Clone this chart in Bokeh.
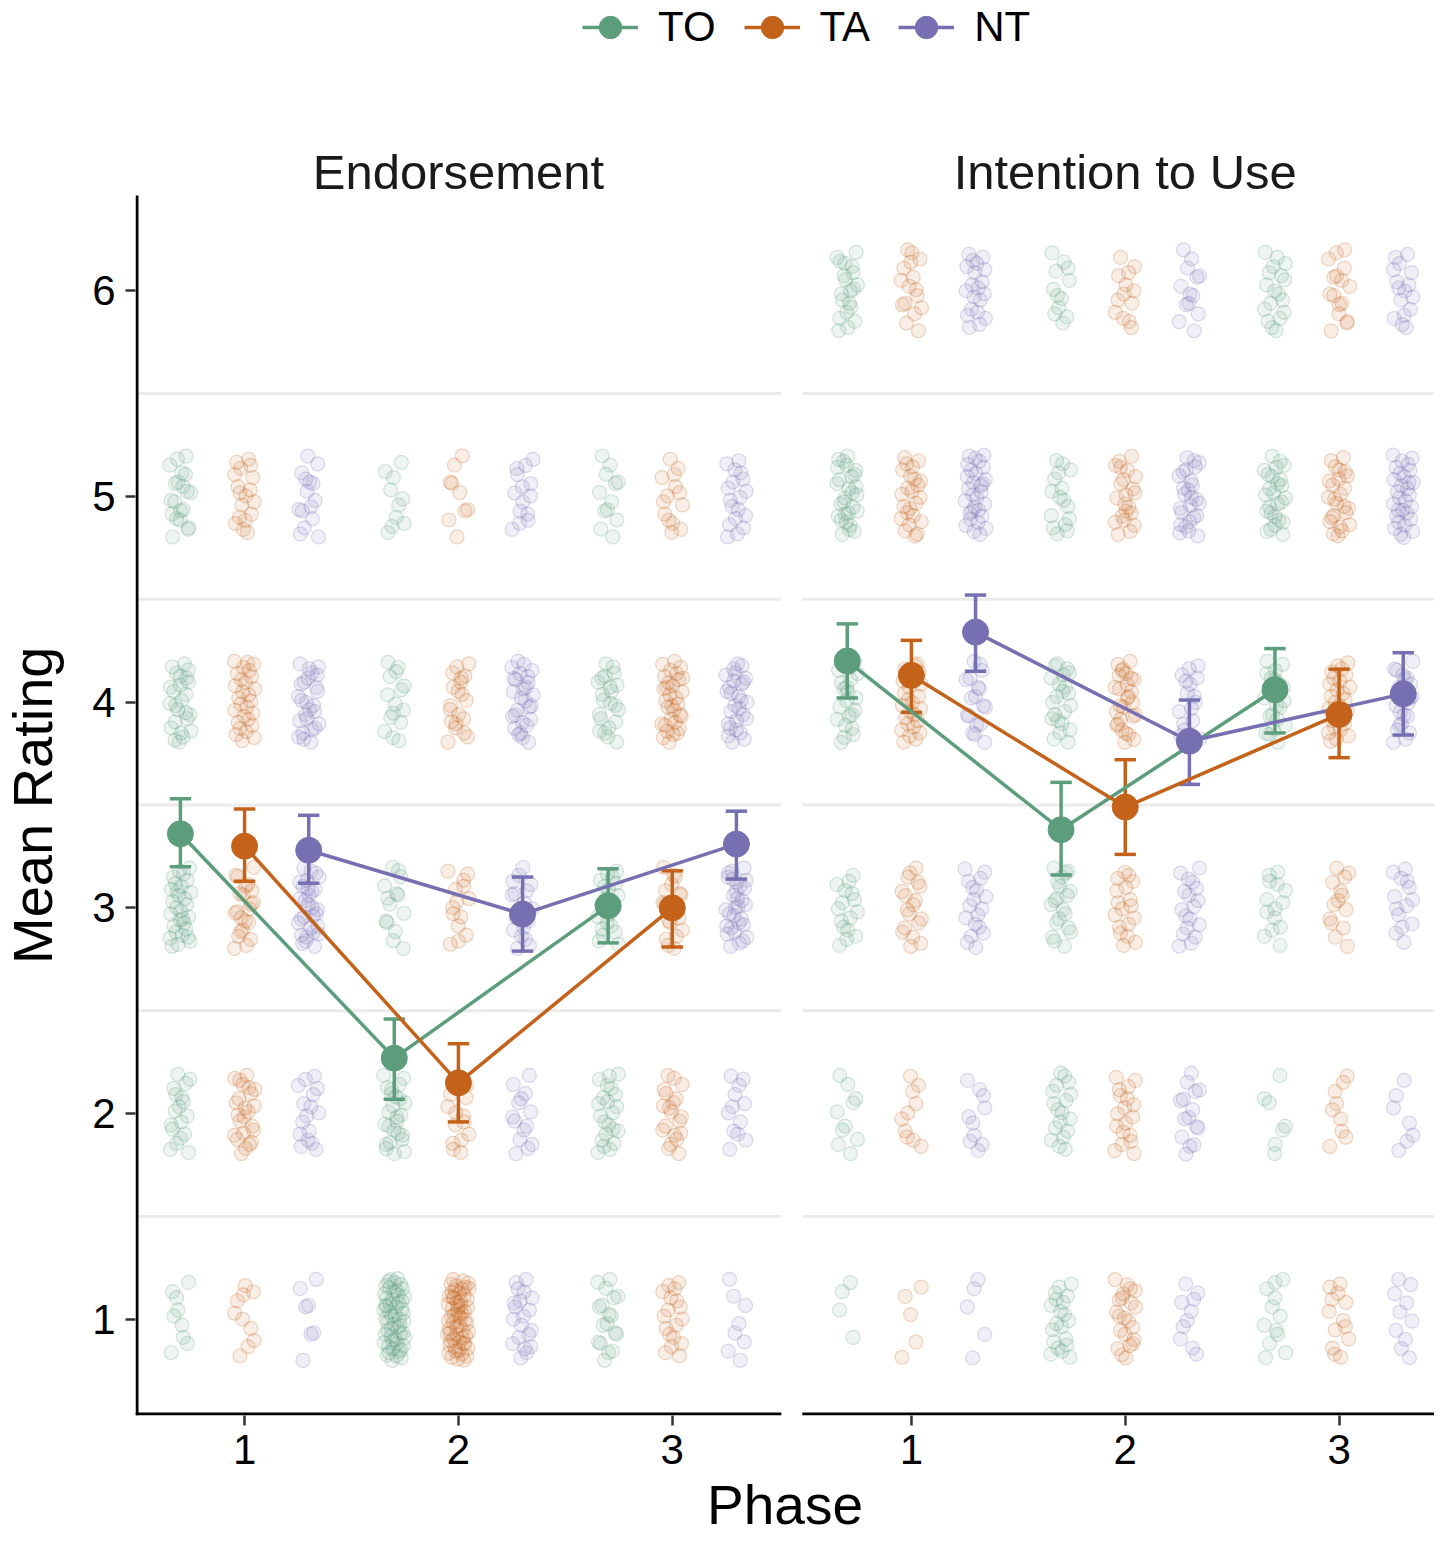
from bokeh.plotting import figure
from bokeh.models import (Range1d, FixedTicker, CustomJSTickFormatter, Legend,
                          LegendItem, Label, Title)
from bokeh.embed import file_html
from bokeh.resources import INLINE

# ---------------- data ----------------
panels = ["Endorsement", "Intention to Use"]
groups = ["TO", "TA", "NT"]
phases = [1, 2, 3]
phase_labels = ["1", "2", "3"]
ratings = [1, 2, 3, 4, 5, 6]
y_ticks = [1, 2, 3, 4, 5, 6]
grid_breaks = [1.5, 2.5, 3.5, 4.5, 5.5]
colors = {"TO": "#5C9E7C", "TA": "#C4621A", "NT": "#7670B2"}

# means and interval bounds per phase (1, 2, 3)
end_TO_mean = [3.36, 2.27, 3.01]
end_TO_lo = [3.20, 2.07, 2.83]
end_TO_hi = [3.53, 2.46, 3.19]
end_TA_mean = [3.30, 2.15, 3.00]
end_TA_lo = [3.13, 1.96, 2.81]
end_TA_hi = [3.48, 2.34, 3.18]
end_NT_mean = [3.28, 2.97, 3.31]
end_NT_lo = [3.12, 2.79, 3.14]
end_NT_hi = [3.45, 3.15, 3.47]

int_TO_mean = [4.20, 3.38, 4.06]
int_TO_lo = [4.02, 3.16, 3.85]
int_TO_hi = [4.38, 3.61, 4.26]
int_TA_mean = [4.13, 3.49, 3.94]
int_TA_lo = [3.95, 3.26, 3.73]
int_TA_hi = [4.30, 3.72, 4.16]
int_NT_mean = [4.34, 3.81, 4.04]
int_NT_lo = [4.15, 3.60, 3.84]
int_NT_hi = [4.52, 4.01, 4.24]

# counts of raw ratings (1..6) per phase (rows = phase 1, 2, 3)
end_TO_counts = [[9, 18, 30, 25, 20, 0], [55, 25, 14, 15, 10, 0], [18, 22, 22, 22, 12, 0]]
end_TA_counts = [[10, 24, 22, 28, 18, 0], [60, 15, 14, 20, 9, 0], [18, 20, 18, 32, 14, 0]]
end_NT_counts = [[7, 16, 30, 26, 15, 0], [20, 14, 18, 28, 14, 0], [8, 12, 30, 28, 18, 0]]
int_TO_counts = [[4, 10, 16, 22, 28, 20], [20, 18, 20, 22, 16, 12], [12, 7, 14, 22, 26, 18]]
int_TA_counts = [[5, 10, 18, 26, 24, 16], [22, 18, 18, 28, 22, 13], [13, 9, 14, 26, 25, 16]]
int_NT_counts = [[5, 10, 18, 18, 30, 20], [10, 15, 18, 16, 26, 13], [10, 7, 14, 22, 30, 16]]

series = {
    (0, "TO"): (end_TO_mean, end_TO_lo, end_TO_hi, end_TO_counts),
    (0, "TA"): (end_TA_mean, end_TA_lo, end_TA_hi, end_TA_counts),
    (0, "NT"): (end_NT_mean, end_NT_lo, end_NT_hi, end_NT_counts),
    (1, "TO"): (int_TO_mean, int_TO_lo, int_TO_hi, int_TO_counts),
    (1, "TA"): (int_TA_mean, int_TA_lo, int_TA_hi, int_TA_counts),
    (1, "NT"): (int_NT_mean, int_NT_lo, int_NT_hi, int_NT_counts),
}

# ---------------- layout ----------------
W, H = 1434, 1540
FRAME_L, FRAME_B = 135, 1415          # panel area left / bottom edge (px)
PANEL_TOP = 195                       # top of panel area (px)
PX_X, PX_Y = 213.85, 205.8            # pixels per data unit
PANEL_LO, PANEL_HI = 0.49, 3.51
GAP = 21 / PX_X
OFF = PANEL_HI - PANEL_LO + GAP
X_END = PANEL_LO + (W - FRAME_L) / PX_X
Y_LO = 0.5335
Y_HI = Y_LO + (FRAME_B - PANEL_TOP) / PX_Y     # top of the panels
Y_TOP = Y_LO + FRAME_B / PX_Y                  # top of canvas
DODGE = {"TO": -0.3, "TA": 0.0, "NT": 0.3}
JIT_W, JIT_H = 0.05, 0.2
CAP = 0.05
FONT = "Liberation Sans"


def halton(i, b):
    """Deterministic low-discrepancy spread used for the jitter positions."""
    f, r = 1.0, 0.0
    while i > 0:
        f /= b
        r += f * (i % b)
        i //= b
    return r


p = figure(width=W, height=H, x_range=Range1d(PANEL_LO, X_END),
           y_range=Range1d(Y_LO, Y_TOP), output_backend="svg",
           toolbar_location=None, min_border_left=FRAME_L,
           min_border_top=0, min_border_bottom=H - FRAME_B,
           min_border_right=0)
p.outline_line_color = None
p.xgrid.visible = False
p.ygrid.visible = False
p.background_fill_color = "white"

# grid lines per panel
for i in range(2):
    n = len(grid_breaks)
    p.segment(x0=[PANEL_LO + i * OFF] * n, x1=[PANEL_HI + i * OFF] * n,
              y0=grid_breaks, y1=grid_breaks, line_color="#EBEBEB", line_width=3)

# jittered raw ratings
k = 0
for i in range(2):
    for g in groups:
        counts = series[(i, g)][3]
        xs, ys = [], []
        for pi, ph in enumerate(phases):
            for ri, r in enumerate(ratings):
                n = counts[pi][ri]
                k += 1
                start = 7 + k * 61
                for j in range(n):
                    u = halton(start + j, 2)
                    v = halton(start + j, 3)
                    xs.append(ph + DODGE[g] + i * OFF + (u - 0.5) * 2 * JIT_W)
                    ys.append(r + (v - 0.5) * 2 * JIT_H)
        p.scatter(xs, ys, size=14, fill_color=colors[g], fill_alpha=0.11,
                  line_color=colors[g], line_alpha=0.25, line_width=1.2)

# error bars, lines, mean points
legend_lines, legend_pts = {}, {}
for g in groups:
    for i in range(2):
        m, lo, hi, _ = series[(i, g)]
        xs = [ph + DODGE[g] + i * OFF for ph in phases]
        c = colors[g]
        p.segment(x0=xs, x1=xs, y0=lo, y1=hi, line_color=c, line_width=3.5)
        p.segment(x0=[x - CAP for x in xs], x1=[x + CAP for x in xs], y0=hi, y1=hi,
                  line_color=c, line_width=3.5)
        p.segment(x0=[x - CAP for x in xs], x1=[x + CAP for x in xs], y0=lo, y1=lo,
                  line_color=c, line_width=3.5)
for g in groups:
    for i in range(2):
        m = series[(i, g)][0]
        xs = [ph + DODGE[g] + i * OFF for ph in phases]
        r = p.line(xs, m, line_color=colors[g], line_width=3.5)
        if i == 0:
            legend_lines[g] = r
for g in groups:
    for i in range(2):
        m = series[(i, g)][0]
        xs = [ph + DODGE[g] + i * OFF for ph in phases]
        r = p.scatter(xs, m, size=26, fill_color=colors[g], line_color=colors[g])
        if i == 0:
            legend_pts[g] = r

# axis lines drawn per panel (left one, and bottom ones with the panel gap)
yb = Y_LO + 1.5 / PX_Y
xl = PANEL_LO + 1.5 / PX_X
p.segment(x0=[xl], x1=[xl], y0=[Y_LO], y1=[Y_HI], line_color="black", line_width=3)
p.segment(x0=[PANEL_LO, PANEL_LO + OFF], x1=[PANEL_HI, PANEL_HI + OFF],
          y0=[yb, yb], y1=[yb, yb], line_color="black", line_width=3)

# axes (ticks + labels)
xa = p.xaxis[0]
xa.ticker = FixedTicker(ticks=[ph + i * OFF for i in range(2) for ph in phases])
xa.formatter = CustomJSTickFormatter(
    args=dict(off=OFF, labels=phase_labels),
    code="const k = Math.round(tick > 3.5 ? tick - off : tick); return labels[k - 1];")
xa.axis_line_color = None
xa.minor_tick_line_color = None
xa.major_tick_out = 10
xa.major_tick_in = 0
xa.major_tick_line_width = 2.5
xa.major_tick_line_color = "#333333"
xa.major_label_text_font = FONT
xa.major_label_text_font_size = "42px"
xa.major_label_text_color = "black"
xa.major_label_standoff = 9
xa.axis_label = "Phase"
xa.axis_label_text_font = FONT
xa.axis_label_text_font_size = "55px"
xa.axis_label_text_font_style = "normal"
xa.axis_label_text_color = "black"
xa.axis_label_standoff = 7

ya = p.yaxis[0]
ya.ticker = FixedTicker(ticks=y_ticks)
ya.axis_line_color = None
ya.minor_tick_line_color = None
ya.major_tick_out = 10
ya.major_tick_in = 0
ya.major_tick_line_width = 2.5
ya.major_tick_line_color = "#333333"
ya.major_label_text_font = FONT
ya.major_label_text_font_size = "42px"
ya.major_label_text_color = "black"
ya.major_label_standoff = 10
# a blank spacer label keeps the title clear of the tick labels
ya.axis_label = " "
ya.axis_label_text_font_size = "1px"
ya.axis_label_standoff = 20

# y title centred on the panel area (not on the whole frame)
Y_TITLE_LEN = 317
panel_mid = (PANEL_TOP + FRAME_B) / 2
p.add_layout(Title(text="Mean Rating", align="left", vertical_align="top",
                   offset=FRAME_B - (panel_mid + Y_TITLE_LEN / 2),
                   text_font=FONT, text_font_size="56px", text_font_style="normal",
                   text_color="black", standoff=0), "left")

# panel strip titles
y_strip = Y_HI + (PANEL_TOP - 171.7) / PX_Y
for i, name in enumerate(panels):
    p.add_layout(Label(x=2.0 + i * OFF, y=y_strip, text=name, text_align="center",
                       text_baseline="alphabetic", text_font=FONT,
                       text_font_size="49px", text_color="#1A1A1A"))

# legend above the panels
legend = Legend(
    items=[LegendItem(label=g, renderers=[legend_lines[g], legend_pts[g]]) for g in groups],
    location=(447, FRAME_B - 56), orientation="horizontal", glyph_width=56,
    glyph_height=58, label_standoff=20, spacing=28, padding=0, margin=0,
    border_line_color=None, background_fill_alpha=0, label_text_font=FONT,
    label_text_font_size="42px", label_text_color="black")
p.add_layout(legend)

open("out.html", "w").write(file_html(p, INLINE))
